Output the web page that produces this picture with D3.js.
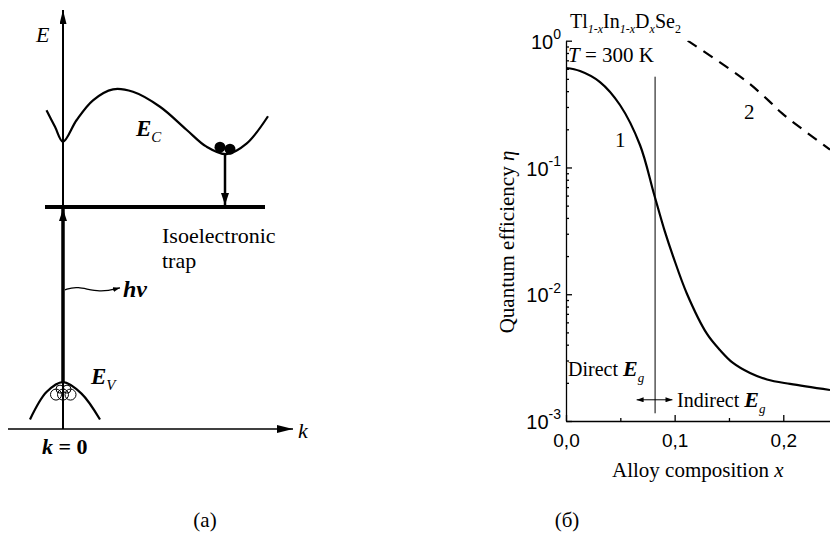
<!DOCTYPE html>
<html>
<head>
<meta charset="utf-8">
<script src="https://cdn.jsdelivr.net/npm/d3@7"></script>
<style>
  body { margin: 0; background: #fff; }
  svg { display: block; }
</style>
</head>
<body>
<div id="chart"></div>
<script>
const SERIF = "'Liberation Serif', 'Times New Roman', serif"
const SANS = "'Liberation Sans', Arial, sans-serif"

// ---- panel (a): band diagram, abstract units (k, E) ----
const conductionBand = [
  [-0.33, 6.39], [-0.16, 6.06], [0, 5.76], [0.27, 6.19], [0.6, 6.59], [1.0, 6.81],
  [1.4, 6.76], [1.94, 6.46], [2.47, 6.0], [2.87, 5.66], [3.27, 5.51], [3.67, 5.72], [4.1, 6.27]
]
const valenceBand = [[-0.66, 0.19], [-0.33, 0.74], [0, 0.94], [0.37, 0.71], [0.74, 0.19]]
const trapLevel = { k0: -0.36, k1: 4.04, E: 4.45 }
const photonWave = [[0.04, 2.79], [0.27, 2.87], [0.74, 2.73], [1.14, 2.83]]
const electrons = [[3.14, 5.65], [3.34, 5.61]]
const holes = [[-0.14, 0.69, 5.5], [0, 0.69, 5.5], [0.15, 0.69, 5.5], [-0.06, 0.8, 4], [0.08, 0.8, 4]]
const kDrop = 3.24

// ---- panel (б): quantum efficiency vs composition ----
const curve1X = [0, 0.0129, 0.0313, 0.0497, 0.0681, 0.081, 0.0911, 0.0985, 0.1114, 0.1298,
  0.1417, 0.1537, 0.1694, 0.185, 0.2062, 0.243]
const curve1Y = [0.609, 0.577, 0.472, 0.311, 0.1504, 0.0618, 0.031, 0.0200, 0.01005, 0.00486,
  0.00363, 0.00287, 0.00239, 0.002125, 0.00196, 0.001756]
const curve2X = [0.112, 0.1646, 0.186, 0.1987, 0.243]
const curve2Y = [1.0, 0.49, 0.34, 0.268, 0.138]
const xMajor = [0, 0.1, 0.2]
const xMinor = [0.05, 0.15]
const yMajor = [1, 0.1, 0.01, 0.001]
const directX = 0.082

const W = 830, H = 536
const svg = d3.select('#chart').append('svg').attr('width', W).attr('height', H)
svg.append('rect').attr('width', W).attr('height', H).attr('fill', '#fff')

const defs = svg.append('defs')
function marker(id, w, h) {
  defs.append('marker').attr('id', id).attr('viewBox', `0 0 ${w} ${h}`)
    .attr('refX', w).attr('refY', h / 2).attr('markerWidth', w).attr('markerHeight', h)
    .attr('markerUnits', 'userSpaceOnUse').attr('orient', 'auto-start-reverse')
    .append('path').attr('d', `M0,0L${w},${h / 2}L0,${h}Z`).attr('fill', '#000')
}
marker('arrE', 14, 7)
marker('arrK', 16, 8)
marker('arrThick', 12, 8)
marker('arrSmall', 7, 5)

// ================= panel (a) =================
const kx = d3.scaleLinear().domain([-1.1, 4.6]).range([8, 293])
const ey = d3.scaleLinear().domain([0, 8.4]).range([429, 10])
const pa = svg.append('g')
const lineA = d3.line().x(d => kx(d[0])).y(d => ey(d[1]))

// k axis
pa.append('line').attr('x1', kx(-1.1)).attr('x2', kx(4.6)).attr('y1', ey(0)).attr('y2', ey(0))
  .attr('stroke', '#000').attr('stroke-width', 1.5).attr('marker-end', 'url(#arrK)')
// E axis
pa.append('line').attr('x1', kx(0)).attr('x2', kx(0)).attr('y1', ey(0)).attr('y2', ey(8.4))
  .attr('stroke', '#000').attr('stroke-width', 2).attr('marker-end', 'url(#arrE)')
// conduction band
pa.append('path').datum(conductionBand).attr('d', lineA.curve(d3.curveCatmullRom))
  .attr('fill', 'none').attr('stroke', '#000').attr('stroke-width', 2.2)
// valence band
pa.append('path').datum(valenceBand).attr('d', lineA.curve(d3.curveCatmullRom))
  .attr('fill', 'none').attr('stroke', '#000').attr('stroke-width', 2.2)
// trap level
pa.append('line').attr('x1', kx(trapLevel.k0)).attr('x2', kx(trapLevel.k1))
  .attr('y1', ey(trapLevel.E)).attr('y2', ey(trapLevel.E))
  .attr('stroke', '#000').attr('stroke-width', 4)
// photon (excitation) arrow
pa.append('line').attr('x1', kx(0)).attr('x2', kx(0))
  .attr('y1', ey(valenceBand[2][1])).attr('y2', ey(trapLevel.E) + 2)
  .attr('stroke', '#000').attr('stroke-width', 3.5).attr('marker-end', 'url(#arrThick)')
// capture arrow
pa.append('line').attr('x1', kx(kDrop)).attr('x2', kx(kDrop))
  .attr('y1', ey(5.5)).attr('y2', ey(trapLevel.E) - 2)
  .attr('stroke', '#000').attr('stroke-width', 2.5).attr('marker-end', 'url(#arrThick)')
// wavy hv
pa.append('path').datum(photonWave).attr('d', lineA.curve(d3.curveBasis))
  .attr('fill', 'none').attr('stroke', '#000').attr('stroke-width', 1.3)
  .attr('marker-end', 'url(#arrSmall)')
// electrons
pa.selectAll('.el').data(electrons).join('circle').attr('class', 'el')
  .attr('cx', d => kx(d[0])).attr('cy', d => ey(d[1])).attr('r', 5.5).attr('fill', '#000')
// holes
pa.selectAll('.hole').data(holes).join('circle').attr('class', 'hole')
  .attr('cx', d => kx(d[0])).attr('cy', d => ey(d[1])).attr('r', d => d[2])
  .attr('fill', 'none').attr('stroke', '#000').attr('stroke-width', 1)

// labels panel (a)
const tA = pa.append('g').attr('font-family', SERIF).style('font-family', SERIF).attr('fill', '#000')
tA.append('text').attr('x', 36).attr('y', 42).attr('font-size', 22).attr('font-style', 'italic').text('E')
const ec = tA.append('text').attr('x', 136).attr('y', 136).attr('font-size', 23)
ec.append('tspan').attr('font-weight', 'bold').attr('font-style', 'italic').text('E')
ec.append('tspan').attr('font-size', 15).attr('font-style', 'italic').attr('dy', 6).text('C')
const ev = tA.append('text').attr('x', 91).attr('y', 384).attr('font-size', 23)
ev.append('tspan').attr('font-weight', 'bold').attr('font-style', 'italic').text('E')
ev.append('tspan').attr('font-size', 15).attr('font-style', 'italic').attr('dy', 6).text('V')
tA.append('text').attr('x', 162).attr('y', 243).attr('font-size', 22).text('Isoelectronic')
tA.append('text').attr('x', 162).attr('y', 268).attr('font-size', 22).text('trap')
tA.append('text').attr('x', 123).attr('y', 297).attr('font-size', 24)
  .attr('font-weight', 'bold').attr('font-style', 'italic').text('h\u03bd')
tA.append('text').attr('x', 298).attr('y', 438).attr('font-size', 22).attr('font-style', 'italic').text('k')
const k0 = tA.append('text').attr('x', 42).attr('y', 454).attr('font-size', 22).attr('font-weight', 'bold')
k0.append('tspan').attr('font-style', 'italic').text('k')
k0.append('tspan').text(' = 0')
tA.append('text').attr('x', 205).attr('y', 527).attr('font-size', 21).attr('text-anchor', 'middle').text('(a)')

// ================= panel (б) =================
const x = d3.scaleLinear().domain([0, 0.243]).range([566, 830])
const y = d3.scaleLog().domain([0.001, 1]).range([421, 40.7])
const pb = svg.append('g')

const clip = defs.append('clipPath').attr('id', 'plotClip')
clip.append('rect').attr('x', x(0)).attr('y', y(1)).attr('width', x(0.243) - x(0)).attr('height', y(0.001) - y(1))

// axes
const yAx = pb.append('g').attr('transform', `translate(${x(0)},0)`)
  .call(d3.axisLeft(y).tickValues(yMajor).tickSizeInner(-6).tickSizeOuter(0).tickFormat(''))
const yMinor = d3.merge(yMajor.slice(1).map(p => d3.range(2, 10).map(m => m * p)))
pb.append('g').attr('transform', `translate(${x(0)},0)`)
  .call(d3.axisLeft(y).tickValues(yMinor).tickSizeInner(-3).tickSizeOuter(0).tickFormat(''))
  .select('.domain').remove()
yAx.selectAll('.tick text').remove()
yAx.selectAll('.tick').each(function (d) {
  const t = d3.select(this).append('text').style('font-family', SANS).attr('fill', '#000')
    .attr('x', -5).attr('dy', '0.38em').attr('text-anchor', 'end').attr('font-size', 20)
  t.append('tspan').text('10')
  t.append('tspan').attr('font-size', 14).attr('dy', '-0.7em').text(Math.round(Math.log10(d)))
})
const xAx = pb.append('g').attr('transform', `translate(0,${y(0.001)})`)
  .call(d3.axisBottom(x).tickValues(xMajor).tickSizeInner(-6).tickSizeOuter(0).tickPadding(13)
    .tickFormat(d => d3.format('.1f')(d).replace('.', ',')))
xAx.selectAll('text').style('font-family', SANS).attr('font-size', 19).attr('fill', '#000')
pb.append('g').attr('transform', `translate(0,${y(0.001)})`)
  .call(d3.axisBottom(x).tickValues(xMinor).tickSizeInner(-3).tickSizeOuter(0).tickFormat(''))
  .select('.domain').remove()
pb.selectAll('.domain, .tick line').attr('stroke', '#000').attr('stroke-width', 1.3)

// curves
const lineB = d3.line().x(d => x(d[0])).y(d => y(d[1])).curve(d3.curveCatmullRom.alpha(0.5))
pb.append('path').datum(d3.zip(curve1X, curve1Y)).attr('d', lineB)
  .attr('fill', 'none').attr('stroke', '#000').attr('stroke-width', 2.2).attr('clip-path', 'url(#plotClip)')
pb.append('path').datum(d3.zip(curve2X, curve2Y)).attr('d', lineB)
  .attr('fill', 'none').attr('stroke', '#000').attr('stroke-width', 2.2)
  .attr('stroke-dasharray', '11,8').attr('clip-path', 'url(#plotClip)')

// direct / indirect boundary
pb.append('line').attr('x1', x(directX)).attr('x2', x(directX)).attr('y1', y(0.52)).attr('y2', y(0.00115))
  .attr('stroke', '#000').attr('stroke-width', 1)
pb.append('line').attr('x1', x(0.065)).attr('x2', x(0.098)).attr('y1', y(0.00147)).attr('y2', y(0.00147))
  .attr('stroke', '#000').attr('stroke-width', 1)
  .attr('marker-start', 'url(#arrSmall)').attr('marker-end', 'url(#arrSmall)')

// labels panel (б)
const tB = pb.append('g').attr('font-family', SERIF).style('font-family', SERIF).attr('fill', '#000')
const title = tB.append('text').attr('x', 570).attr('y', 28).attr('font-size', 20)
title.append('tspan').text('Tl')
title.append('tspan').attr('font-size', 12).attr('font-style', 'italic').attr('dy', 5).text('1-x')
title.append('tspan').attr('dy', -5).text('In')
title.append('tspan').attr('font-size', 12).attr('font-style', 'italic').attr('dy', 5).text('1-x')
title.append('tspan').attr('dy', -5).text('D')
title.append('tspan').attr('font-size', 12).attr('font-style', 'italic').attr('dy', 5).text('x')
title.append('tspan').attr('dy', -5).text('Se')
title.append('tspan').attr('font-size', 12).attr('dy', 5).text('2')
const temp = tB.append('text').attr('x', 568).attr('y', 62).attr('font-size', 21)
temp.append('tspan').attr('font-style', 'italic').text('T')
temp.append('tspan').text(' = 300 K')
tB.append('text').attr('x', 615).attr('y', 147).attr('font-size', 21).text('1')
tB.append('text').attr('x', 744).attr('y', 119).attr('font-size', 21).text('2')
const dir = tB.append('text').attr('x', 568).attr('y', 376).attr('font-size', 20)
dir.append('tspan').text('Direct  ')
dir.append('tspan').attr('font-weight', 'bold').attr('font-style', 'italic').attr('font-size', 22).text('E')
dir.append('tspan').attr('font-style', 'italic').attr('font-size', 13).attr('dy', 6).text('g')
const ind = tB.append('text').attr('x', 677).attr('y', 407).attr('font-size', 20)
ind.append('tspan').text('Indirect  ')
ind.append('tspan').attr('font-weight', 'bold').attr('font-style', 'italic').attr('font-size', 22).text('E')
ind.append('tspan').attr('font-style', 'italic').attr('font-size', 13).attr('dy', 6).text('g')
const xl = tB.append('text').attr('x', 612).attr('y', 477).attr('font-size', 21)
xl.append('tspan').text('Alloy composition  ')
xl.append('tspan').attr('font-style', 'italic').text('x')
const yl = tB.append('text').attr('transform', 'translate(514,242) rotate(-90)')
  .attr('text-anchor', 'middle').attr('font-size', 21)
yl.append('tspan').text('Quantum efficiency  ')
yl.append('tspan').attr('font-style', 'italic').text('\u03b7')
tB.append('text').attr('x', 567).attr('y', 527).attr('font-size', 21).attr('text-anchor', 'middle').text('(\u0431)')
</script>
</body>
</html>
